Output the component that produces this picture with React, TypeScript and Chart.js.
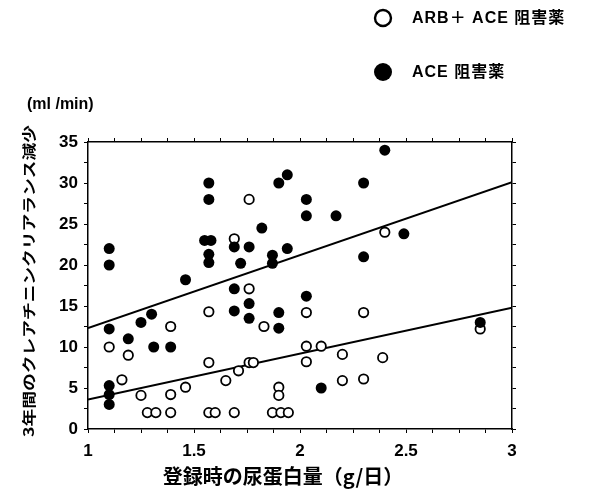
import { useEffect, useRef } from "react";
import { Chart, registerables } from "chart.js";

Chart.register(...registerables);

// ARB + ACE inhibitor (open circles)
const openX = [1.1, 1.19, 1.16, 1.25, 1.28, 1.32, 1.39, 1.39, 1.39, 1.46, 1.57, 1.57, 1.57, 1.6, 1.65, 1.69, 1.69, 1.71, 1.76, 1.76, 1.76, 1.78, 1.83, 1.87, 1.9, 1.9, 1.91, 1.945, 2.03, 2.03, 2.03, 2.1, 2.2, 2.2, 2.3, 2.3, 2.39, 2.4, 2.85];
const openY = [10, 9, 6, 4.1, 2, 2, 4.2, 2, 12.5, 5.1, 14.3, 8.1, 2, 2, 5.9, 2, 23.2, 7.1, 28, 17.1, 8.1, 8.1, 12.5, 2, 5.1, 4.1, 2, 2, 14.2, 10.1, 8.2, 10.1, 9.1, 5.9, 14.2, 6.1, 8.7, 24, 12.2];

// ACE inhibitor only (filled circles)
const filledX = [1.1, 1.1, 1.1, 1.1, 1.1, 1.1, 1.19, 1.25, 1.3, 1.31, 1.39, 1.46, 1.55, 1.58, 1.57, 1.57, 1.57, 1.57, 1.69, 1.69, 1.69, 1.72, 1.76, 1.76, 1.76, 1.82, 1.87, 1.87, 1.9, 1.9, 1.9, 1.94, 1.94, 2.03, 2.03, 2.03, 2.1, 2.17, 2.3, 2.3, 2.4, 2.49, 2.85];
const filledY = [22, 20, 12.2, 5.3, 4.2, 3, 11, 13, 14, 10, 10, 18.2, 23, 23, 21.3, 20.3, 30, 28, 22.2, 17.1, 14.4, 20.2, 22.2, 15.3, 13.5, 24.5, 21.2, 20.2, 30, 14.2, 12.3, 31, 22, 28, 26, 16.2, 5, 26, 30, 21, 34, 23.8, 13];

// regression lines
const fitX = [1, 3];
const filledFitY = [12.3, 30.1];
const openFitY = [3.6, 14.8];

// axis ticks
const xTickLabels = [1, 1.5, 2, 2.5, 3];
const yTickLabels = [0, 5, 10, 15, 20, 25, 30, 35];

const legendLabels = ["ARB＋ ACE 阻害薬", "ACE 阻害薬"];
const xTitle = "登録時の尿蛋白量（g/日）";
const yTitle = "3年間のクレアチニンクリアランス減少";
const unitLabel = "(ml /min)";

const FONT = "'Liberation Sans', 'Noto Sans CJK JP', Arial, sans-serif";
const CJK = "'Noto Sans CJK JP', 'Liberation Sans', sans-serif";

const textPlugin = {
  id: "textPlugin",
  afterDraw(chart: any) {
    const ctx = chart.ctx as CanvasRenderingContext2D;
    ctx.save();
    ctx.fillStyle = "#000";
    ctx.strokeStyle = "#000";

    // unit label
    ctx.font = `bold 16px ${FONT}`;
    ctx.textAlign = "left";
    ctx.textBaseline = "middle";
    ctx.fillText(unitLabel, 27, 105);

    // x title
    ctx.font = `bold 20px ${CJK}`;
    ctx.textAlign = "center";
    ctx.fillText(xTitle, 283, 476);

    // y title (rotated, stretched)
    ctx.save();
    ctx.translate(29, 281);
    ctx.rotate(-Math.PI / 2);
    ctx.font = `bold 14px ${CJK}`;
    const w = ctx.measureText(yTitle).width;
    ctx.scale(312 / w, 1);
    ctx.textAlign = "center";
    ctx.textBaseline = "middle";
    ctx.fillText(yTitle, 0, 0);
    ctx.restore();

    // legend
    const items = [
      { y: 18, filled: false },
      { y: 72, filled: true },
    ];
    items.forEach((it, i) => {
      ctx.beginPath();
      ctx.arc(383, it.y, it.filled ? 9 : 8, 0, Math.PI * 2);
      if (it.filled) {
        ctx.fill();
      } else {
        ctx.lineWidth = 2.4;
        ctx.stroke();
      }
      ctx.font = `bold 16px ${FONT}`;
      (ctx as any).letterSpacing = "1px";
      ctx.textAlign = "left";
      ctx.textBaseline = "middle";
      ctx.fillText(legendLabels[i], 412, it.y + 1);
      (ctx as any).letterSpacing = "0px";
    });
    ctx.restore();
  },
};

export default function App() {
  const ref = useRef<HTMLCanvasElement | null>(null);

  useEffect(() => {
    if (!ref.current) return;
    const isLabel = (arr: number[], v: number) => arr.some((a) => Math.abs(a - v) < 1e-6);

    const gridCfg = { drawOnChartArea: false, color: "#000", tickLength: 4, lineWidth: 1 };
    const borderCfg = { color: "#000", width: 1.5 };

    const chart = new Chart(ref.current, {
      type: "scatter",
      data: {
        datasets: [
          {
            label: legendLabels[1],
            data: filledX.map((x, i) => ({ x, y: filledY[i] })),
            backgroundColor: "#000",
            borderColor: "#000",
            borderWidth: 0,
            pointRadius: 5.5,
          },
          {
            label: legendLabels[0],
            data: openX.map((x, i) => ({ x, y: openY[i] })),
            backgroundColor: "#fff",
            borderColor: "#000",
            borderWidth: 1.8,
            pointRadius: 4.7,
          },
          {
            type: "line",
            label: "fit1",
            data: fitX.map((x, i) => ({ x, y: filledFitY[i] })),
            borderColor: "#000",
            borderWidth: 2,
            pointRadius: 0,
            showLine: true,
          },
          {
            type: "line",
            label: "fit2",
            data: fitX.map((x, i) => ({ x, y: openFitY[i] })),
            borderColor: "#000",
            borderWidth: 2,
            pointRadius: 0,
            showLine: true,
          },
        ] as any,
      },
      options: {
        responsive: false,
        animation: false,
        events: [],
        layout: { padding: { top: 142, right: 83, left: 0, bottom: 0 } },
        plugins: { legend: { display: false }, tooltip: { enabled: false } },
        scales: {
          x: {
            type: "linear",
            position: "bottom",
            min: 1,
            max: 3,
            afterFit: (s: any) => { s.height = 67; },
            ticks: {
              stepSize: 0.125,
              autoSkip: false,
              maxRotation: 0,
              color: "#000",
              padding: 8,
              font: { family: FONT, size: 17, weight: "bold" },
              callback: (v: any) => (isLabel(xTickLabels, Number(v)) ? String(Number(v)) : ""),
            },
            grid: gridCfg,
            border: borderCfg,
          },
          x2: {
            type: "linear",
            position: "top",
            min: 1,
            max: 3,
            afterFit: (s: any) => { s.height = 0; },
            ticks: { stepSize: 0.125, autoSkip: false, display: false },
            grid: gridCfg,
            border: borderCfg,
          },
          y: {
            type: "linear",
            position: "left",
            min: 0,
            max: 35,
            afterFit: (s: any) => { s.width = 88; },
            ticks: {
              stepSize: 2.5,
              autoSkip: false,
              color: "#000",
              padding: 6,
              font: { family: FONT, size: 17, weight: "bold" },
              callback: (v: any) => (isLabel(yTickLabels, Number(v)) ? String(Number(v)) : ""),
            },
            grid: gridCfg,
            border: borderCfg,
          },
          y2: {
            type: "linear",
            position: "right",
            min: 0,
            max: 35,
            afterFit: (s: any) => { s.width = 0; },
            ticks: { stepSize: 2.5, autoSkip: false, display: false },
            grid: gridCfg,
            border: borderCfg,
          },
        },
      } as any,
      plugins: [textPlugin],
    });
    return () => chart.destroy();
  }, []);

  return (
    <div style={{ position: "fixed", left: 0, top: 0, width: 595, height: 496, background: "#fff" }}>
      <canvas ref={ref} width={595} height={496} />
    </div>
  );
}
